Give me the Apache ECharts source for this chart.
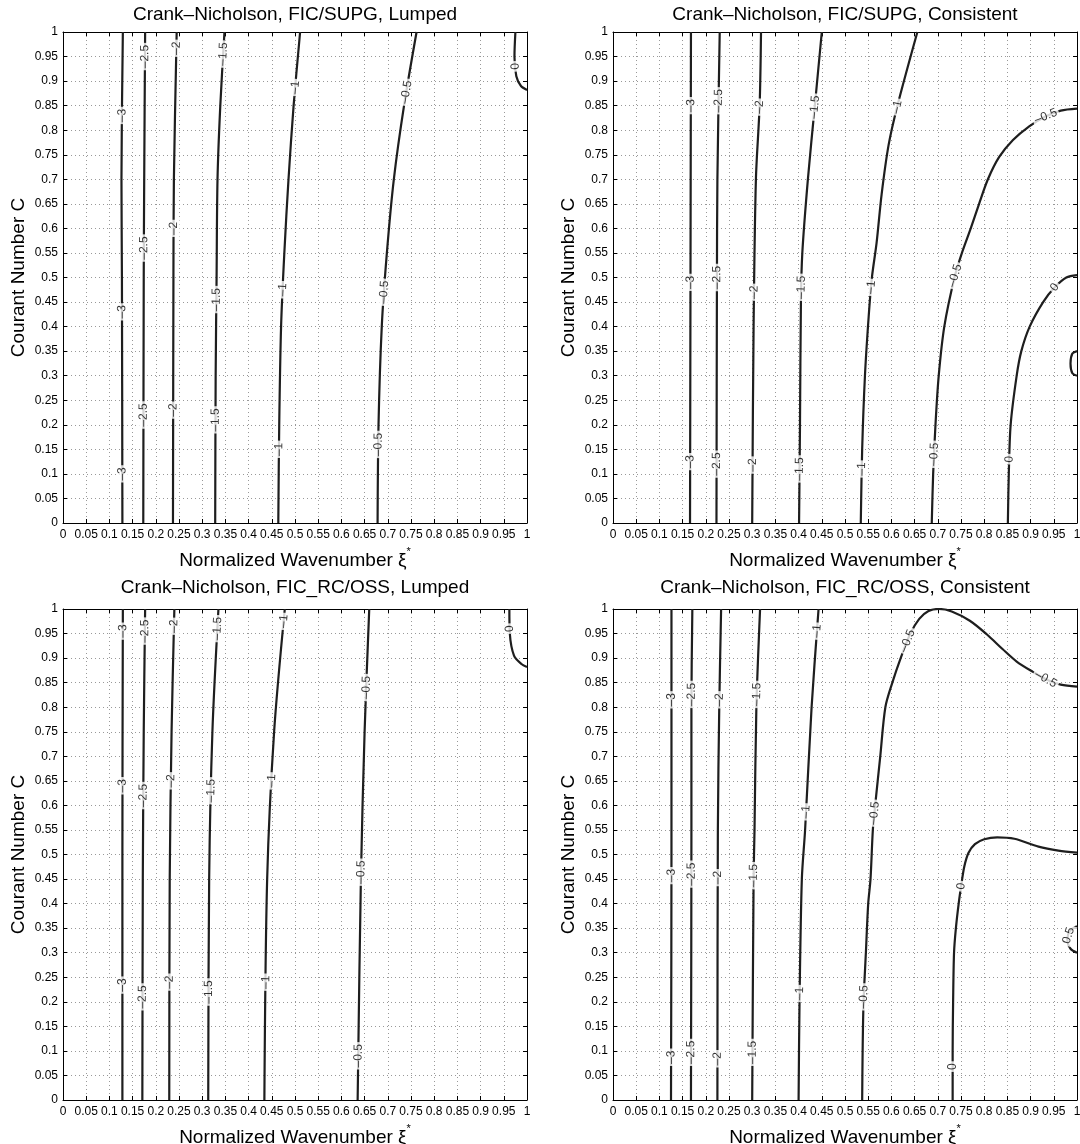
<!DOCTYPE html>
<html><head><meta charset="utf-8">
<script src="https://cdn.jsdelivr.net/npm/echarts@6/dist/echarts.min.js"></script>
<style>html,body{margin:0;padding:0;background:#fff}#c{width:1080px;height:1144px}</style>
</head><body><div id="c"></div>
<script>
// ---------------- data ----------------
const panelTitles = [
  'Crank\u2013Nicholson, FIC/SUPG, Lumped',
  'Crank\u2013Nicholson, FIC/SUPG, Consistent',
  'Crank\u2013Nicholson, FIC_RC/OSS, Lumped',
  'Crank\u2013Nicholson, FIC_RC/OSS, Consistent'
];
const tickLabels = ['0','0.05','0.1','0.15','0.2','0.25','0.3','0.35','0.4','0.45','0.5',
  '0.55','0.6','0.65','0.7','0.75','0.8','0.85','0.9','0.95','1'];
const xName = 'Normalized Wavenumber';
const yName = 'Courant Number C';

// contour lines: [level, [[xi, C], ...]]
const supgLumpedLines = [
  [-3,   [[0.128,0],[0.127,0.5],[0.126,0.7],[0.129,1]]],
  [-2.5, [[0.173,0],[0.174,0.5],[0.175,0.7],[0.177,1]]],
  [-2,   [[0.237,0],[0.238,0.5],[0.239,0.7],[0.245,1]]],
  [-1.5, [[0.328,0],[0.329,0.3],[0.331,0.5],[0.333,0.7],[0.339,0.85],[0.348,1]]],
  [-1,   [[0.464,0],[0.466,0.2],[0.470,0.4],[0.477,0.55],[0.486,0.7],[0.497,0.85],[0.511,1]]],
  [-0.5, [[0.678,0],[0.680,0.2],[0.687,0.4],[0.698,0.55],[0.713,0.7],[0.735,0.85],[0.762,1]]],
  [0,    [[0.975,1],[0.973,0.95],[0.977,0.91],[0.987,0.89],[1.0,0.882]]]
];
const supgLumpedLabels = [
  [-3,0.128,0.83],[-3,0.127,0.43],[-3,0.128,0.10],
  [-2.5,0.176,0.95],[-2.5,0.174,0.56],[-2.5,0.173,0.22],
  [-2,0.244,0.967],[-2,0.238,0.60],[-2,0.237,0.23],
  [-1.5,0.346,0.955],[-1.5,0.330,0.455],[-1.5,0.328,0.21],
  [-1,0.500,0.887],[-1,0.474,0.475],[-1,0.465,0.15],
  [-0.5,0.743,0.877],[-0.5,0.692,0.47],[-0.5,0.680,0.16],
  [0,0.973,0.93]
];

const supgConsLines = [
  [-3,   [[0.166,0],[0.167,0.5],[0.168,1]]],
  [-2.5, [[0.223,0],[0.224,0.5],[0.225,0.7],[0.230,1]]],
  [-2,   [[0.300,0],[0.303,0.4],[0.308,0.7],[0.316,0.85],[0.319,1]]],
  [-1.5, [[0.401,0],[0.403,0.2],[0.405,0.45],[0.408,0.55],[0.420,0.7],[0.435,0.85],[0.450,1]]],
  [-1,   [[0.534,0],[0.537,0.15],[0.543,0.3],[0.551,0.42],[0.558,0.5],[0.568,0.57],[0.579,0.67],[0.594,0.77],[0.613,0.85],[0.656,1]]],
  [-0.5, [[0.687,0],[0.690,0.1],[0.695,0.2],[0.702,0.3],[0.714,0.4],[0.736,0.5],[0.752,0.55],[0.771,0.6],[0.789,0.65],[0.808,0.7],[0.832,0.745],[0.862,0.78],[0.897,0.808],[0.932,0.828],[0.965,0.84],[1.0,0.844]]],
  [0,    [[0.851,0],[0.853,0.1],[0.857,0.2],[0.870,0.3],[0.880,0.35],[0.898,0.4],[0.927,0.45],[0.952,0.48],[0.977,0.5],[1.0,0.505]]],
  [0.5,  [[1.0,0.35],[0.990,0.345],[0.986,0.325],[0.990,0.305],[1.0,0.30]]]
];
const supgConsLabels = [
  [-3,0.167,0.85],[-3,0.167,0.49],[-3,0.166,0.125],
  [-2.5,0.226,0.86],[-2.5,0.224,0.50],[-2.5,0.223,0.12],
  [-2,0.316,0.847],[-2,0.305,0.47],[-2,0.300,0.118],
  [-1.5,0.435,0.847],[-1.5,0.406,0.48],[-1.5,0.401,0.11],
  [-1,0.613,0.847],[-1,0.556,0.48],[-1,0.534,0.11],
  [-0.5,0.932,0.83],[-0.5,0.750,0.50],[-0.5,0.692,0.14],
  [0,0.952,0.48],[0,0.853,0.13]
];

const ossLumpedLines = [
  [-3,   [[0.128,0],[0.128,0.5],[0.129,1]]],
  [-2.5, [[0.171,0],[0.172,0.45],[0.174,0.75],[0.177,1]]],
  [-2,   [[0.229,0],[0.230,0.45],[0.234,0.75],[0.240,1]]],
  [-1.5, [[0.313,0],[0.315,0.45],[0.322,0.75],[0.335,1]]],
  [-1,   [[0.434,0],[0.440,0.45],[0.455,0.75],[0.478,1]]],
  [-0.5, [[0.635,0],[0.642,0.45],[0.650,0.75],[0.660,1]]],
  [0,    [[0.962,1],[0.963,0.95],[0.972,0.905],[0.988,0.888],[1.0,0.882]]]
];
const ossLumpedLabels = [
  [-3,0.128,0.955],[-3,0.128,0.64],[-3,0.128,0.234],
  [-2.5,0.176,0.955],[-2.5,0.173,0.62],[-2.5,0.171,0.21],
  [-2,0.239,0.965],[-2,0.232,0.65],[-2,0.229,0.24],
  [-1.5,0.333,0.96],[-1.5,0.318,0.63],[-1.5,0.313,0.22],
  [-1,0.475,0.975],[-1,0.445,0.65],[-1,0.435,0.24],
  [-0.5,0.655,0.84],[-0.5,0.641,0.464],[-0.5,0.636,0.09],
  [0,0.962,0.96]
];

const ossConsLines = [
  [-3,   [[0.125,0],[0.126,0.5],[0.126,1]]],
  [-2.5, [[0.168,0],[0.169,0.55],[0.169,0.8],[0.171,1]]],
  [-2,   [[0.225,0],[0.226,0.55],[0.229,0.8],[0.233,1]]],
  [-1.5, [[0.300,0],[0.303,0.45],[0.305,0.55],[0.309,0.8],[0.317,1]]],
  [-1,   [[0.400,0],[0.402,0.2],[0.407,0.45],[0.414,0.55],[0.428,0.8],[0.443,1]]],
  [-0.5, [[0.537,0],[0.538,0.1],[0.540,0.2],[0.545,0.3],[0.550,0.4],[0.555,0.45],[0.560,0.55],[0.565,0.6],[0.576,0.7],[0.587,0.8],[0.602,0.85],[0.620,0.9],[0.641,0.95],[0.660,0.98],[0.680,0.996],[0.702,1.0],[0.730,0.995],[0.769,0.976],[0.806,0.948],[0.840,0.918],[0.870,0.893],[0.905,0.872],[0.935,0.856],[0.965,0.846],[1.0,0.842]]],
  [0,    [[0.732,0],[0.732,0.1],[0.733,0.2],[0.735,0.3],[0.739,0.35],[0.745,0.4],[0.751,0.44],[0.757,0.475],[0.766,0.503],[0.780,0.521],[0.800,0.531],[0.828,0.535],[0.865,0.532],[0.917,0.516],[0.960,0.508],[1.0,0.504]]],
  [0.5,  [[1.0,0.354],[0.985,0.345],[0.979,0.327],[0.986,0.308],[1.0,0.30]]]
];
const ossConsLabels = [
  [-3,0.126,0.815],[-3,0.126,0.457],[-3,0.125,0.087],
  [-2.5,0.170,0.826],[-2.5,0.169,0.46],[-2.5,0.168,0.097],
  [-2,0.229,0.815],[-2,0.226,0.453],[-2,0.225,0.084],
  [-1.5,0.310,0.826],[-1.5,0.305,0.457],[-1.5,0.300,0.097],
  [-1,0.439,0.955],[-1,0.413,0.587],[-1,0.402,0.217],
  [-0.5,0.635,0.935],[-0.5,0.565,0.584],[-0.5,0.539,0.21],[-0.5,0.932,0.856],
  [0,0.746,0.436],[0,0.732,0.068],
  [0.5,0.975,0.337]
];

// ---------------- layout & style ----------------
const FONT = '"Liberation Sans", Arial, Helvetica, sans-serif';
const GRIDS = [
  {left:63,  top:32,  width:464, height:491},
  {left:613, top:32,  width:464, height:491},
  {left:63,  top:609, width:464, height:491},
  {left:613, top:609, width:464, height:491}
];
const TITLE_TOP = [5, 5, 578, 578];
const panels = [
  {lines: supgLumpedLines, labels: supgLumpedLabels},
  {lines: supgConsLines,   labels: supgConsLabels},
  {lines: ossLumpedLines,  labels: ossLumpedLabels},
  {lines: ossConsLines,    labels: ossConsLabels}
];
const fmtLevel = v => (v < 0 ? '\u2013' + Math.abs(v) : String(v));
const tickFmt = v => tickLabels[Math.round(v / 0.05)];

const chart = echarts.init(document.getElementById('c'), null, {renderer: 'canvas'});

const grid = GRIDS.map(g => Object.assign({outerBoundsMode: 'none', containLabel: false}, g));
const title = panelTitles.map((t, i) => ({
  text: t, left: GRIDS[i].left + GRIDS[i].width / 2, top: TITLE_TOP[i], textAlign: 'center', padding: 0,
  textStyle: {fontFamily: FONT, fontSize: 19, fontWeight: 'normal', color: '#000'}
}));

const axisCommon = {
  type: 'value', min: 0, max: 1, interval: 0.05,
  axisLine: {show: true, onZero: false, lineStyle: {color: '#000', width: 1}},
  axisTick: {show: true, inside: true, length: 4, lineStyle: {color: '#000', width: 1}}
};
const xAxis = [], yAxis = [];
GRIDS.forEach((g, i) => {
  xAxis.push(Object.assign({}, axisCommon, {
    gridIndex: i, position: 'bottom',
    axisLabel: {show: true, margin: 6, fontSize: 12, color: '#000', fontFamily: FONT, formatter: tickFmt, hideOverlap: false},
    splitLine: {show: true, lineStyle: {color: '#999', width: 1, type: [1, 3]}},
    name: '{n|' + xName + ' \u03BE}{s|*}', nameLocation: 'middle', nameGap: 23,
    nameTextStyle: {rich: {
      n: {fontFamily: FONT, fontSize: 19, color: '#000', lineHeight: 24, verticalAlign: 'bottom'},
      s: {fontFamily: FONT, fontSize: 11, color: '#000', lineHeight: 24, verticalAlign: 'top'}
    }}
  }));
  yAxis.push(Object.assign({}, axisCommon, {
    gridIndex: i, position: 'left',
    axisLabel: {show: true, margin: 5, fontSize: 12, color: '#000', fontFamily: FONT, formatter: tickFmt, hideOverlap: false},
    splitLine: {show: true, lineStyle: {color: '#999', width: 1, type: [1, 3]}},
    name: yName, nameLocation: 'middle', nameGap: 35,
    nameTextStyle: {fontFamily: FONT, fontSize: 19, color: '#000'}
  }));
});
GRIDS.forEach((g, i) => {
  xAxis.push(Object.assign({}, axisCommon, {gridIndex: i, position: 'top', axisLabel: {show: false}, splitLine: {show: false}}));
  yAxis.push(Object.assign({}, axisCommon, {gridIndex: i, position: 'right', axisLabel: {show: false}, splitLine: {show: false}}));
});

const series = [];
const lineRefs = [];
panels.forEach((p, g) => {
  p.lines.forEach(([lv, pts]) => {
    lineRefs.push({g, lv, idx: series.length, pts});
    series.push({
      type: 'line', xAxisIndex: g, yAxisIndex: g, data: pts, smooth: 0.3,
      symbol: 'none', clip: true, silent: true, z: 3,
      lineStyle: {color: '#1e1e1e', width: 2.2}
    });
  });
});
const labelStart = series.length;
panels.forEach((p, g) => {
  series.push({
    type: 'scatter', xAxisIndex: g, yAxisIndex: g, symbolSize: 1, silent: true, z: 5,
    itemStyle: {color: 'rgba(0,0,0,0)'},
    label: {show: true, position: 'inside', formatter: '{b}', fontFamily: FONT, fontSize: 12, color: '#000',
      backgroundColor: '#fff', padding: [0, 2]},
    data: p.labels.map(([lv, x, y]) => ({name: fmtLevel(lv), value: [x, y]}))
  });
});

chart.setOption({animation: false, backgroundColor: '#fff', title, grid, xAxis, yAxis, series});

// place each label on its contour and rotate it along the line (reading upwards for near-vertical lines)
panels.forEach((p, g) => {
  const items = p.labels.map(([lv, x, y]) => {
    const cands = lineRefs.filter(l => l.g === g && l.lv === lv);
    const P = chart.convertToPixel({seriesIndex: cands[0].idx}, [x, y]);
    let best = null;
    cands.forEach(c => {
      const px = c.pts.map(q => chart.convertToPixel({seriesIndex: c.idx}, q));
      for (let i = 0; i < px.length - 1; i++) {
        const a = px[i], b = px[i + 1];
        const dx = b[0] - a[0], dy = b[1] - a[1];
        const L2 = dx * dx + dy * dy || 1;
        let t = ((P[0] - a[0]) * dx + (P[1] - a[1]) * dy) / L2;
        t = Math.max(0, Math.min(1, t));
        const q = [a[0] + t * dx, a[1] + t * dy];
        const d = Math.hypot(q[0] - P[0], q[1] - P[1]);
        if (!best || d < best.d) best = {d, q, dx, dy, idx: c.idx};
      }
    });
    let ang = Math.atan2(-best.dy, best.dx) * 180 / Math.PI;
    if (ang > 100) ang -= 180;
    if (ang <= -80) ang += 180;
    const v = chart.convertFromPixel({seriesIndex: best.idx}, best.q);
    return {name: fmtLevel(lv), value: v, label: {rotate: ang}};
  });
  series[labelStart + g].data = items;
});
chart.setOption({series});
</script>
</body></html>
